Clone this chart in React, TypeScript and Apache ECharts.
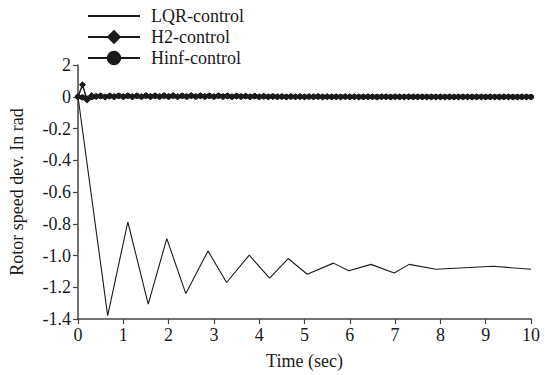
import React, { useEffect, useRef } from "react";
import * as echarts from "echarts";

// LQR response: corner points of the damped oscillation (time s, deviation rad)
const LQR_TIME = [0, 0.655, 1.1, 1.55, 1.96, 2.38, 2.87, 3.28, 3.78, 4.23, 4.64, 5.06, 5.64, 5.98, 6.47, 6.98, 7.31, 7.9, 9.17, 10.0];
const LQR_VALUES = [0, -1.379, -0.789, -1.306, -0.894, -1.24, -0.971, -1.17, -0.998, -1.143, -1.019, -1.118, -1.048, -1.096, -1.056, -1.11, -1.056, -1.087, -1.068, -1.087];

// H2 and Hinf responses, sampled every 0.1 s from 0 to 10 s
const SAMPLE_STEP = 0.1;
const H2_VALUES = [
  0, 0.075, -0.02, 0.008, 0.002, 0.006, -0.002, 0.005, 0.0, 0.006,
  0.001, 0.007, 0.0, 0.006, 0.002, 0.008, 0.001, 0.007, 0.001, 0.008,
  0.002, 0.008, 0.001, 0.007, 0.002, 0.008, 0.001, 0.007, 0.002, 0.007,
  0.001, 0.006, 0.001, 0.006, 0.0, 0.005, 0.001, 0.004, 0.0, 0.004,
  0.0, 0.003, 0.0, 0.002, 0.0, 0.002, -0.001, 0.002, 0.0, 0.001,
  -0.001, 0.001, 0.0, 0.001, -0.001, 0.001, 0.0, 0.0, -0.001, 0.001,
  0.0, 0.0, -0.001, 0.0, 0.0, 0.0, -0.001, 0.0, 0.0, -0.001,
  0.0, 0.0, -0.001, 0.0, 0.0, -0.001, 0.0, -0.001, 0.0, -0.001,
  0.0, -0.001, 0.0, -0.001, -0.001, 0.0, -0.001, -0.001, 0.0, -0.001,
  -0.001, 0.0, -0.001, -0.001, 0.0, -0.001, -0.001, -0.001, 0.0, -0.001,
  -0.001,
];
const HINF_VALUES = [
  0, -0.004, -0.012, -0.003, 0.002, 0.004, 0.0, 0.004, 0.001, 0.005,
  0.0, 0.005, 0.001, 0.005, 0.0, 0.006, 0.001, 0.005, 0.001, 0.006,
  0.001, 0.006, 0.0, 0.005, 0.001, 0.006, 0.001, 0.005, 0.001, 0.005,
  0.0, 0.005, 0.001, 0.004, 0.0, 0.004, 0.001, 0.003, 0.0, 0.003,
  0.0, 0.002, 0.0, 0.002, 0.0, 0.001, 0.0, 0.001, 0.0, 0.001,
  0.0, 0.0, 0.0, 0.001, 0.0, 0.0, -0.001, 0.0, 0.0, 0.0,
  -0.001, 0.0, 0.0, -0.001, 0.0, 0.0, -0.001, 0.0, 0.0, -0.001,
  0.0, -0.001, 0.0, 0.0, -0.001, 0.0, -0.001, 0.0, -0.001, 0.0,
  -0.001, 0.0, -0.001, -0.001, 0.0, -0.001, 0.0, -0.001, -0.001, 0.0,
  -0.001, -0.001, 0.0, -0.001, -0.001, 0.0, -0.001, -0.001, -0.001, 0.0,
  -0.001,
];

const SERIES_NAMES = ["LQR-control", "H2-control", "Hinf-control"];

// Axis ranges and tick labels
const X_MIN = 0;
const X_MAX = 10;
const X_STEP = 1;
const Y_MIN = -1.4;
const Y_MAX = 0.2;
const Y_STEP = 0.2;
const Y_TICK_LABELS = ["-1.4", "-1.2", "-1.0", "-0.8", "-0.6", "-0.4", "-0.2", "0", "2"];

const FONT = "Liberation Serif";
const INK = "#1a1a1a";
const AXIS_COLOR = "#444";

export default function App() {
  const ref = useRef<HTMLDivElement | null>(null);

  useEffect(() => {
    if (!ref.current) return;
    const chart = echarts.init(ref.current, undefined, { renderer: "svg" });

    const lqr = LQR_TIME.map((t, i) => [t, LQR_VALUES[i]]);
    const h2 = H2_VALUES.map((v, i) => [+(i * SAMPLE_STEP).toFixed(2), v]);
    const hinf = HINF_VALUES.map((v, i) => [+(i * SAMPLE_STEP).toFixed(2), v]);

    const labelStyle = { fontFamily: FONT, fontSize: 18, color: INK };

    chart.setOption({
      animation: false,
      backgroundColor: "#fff",
      textStyle: { fontFamily: FONT },
      grid: { left: 78, right: 14, top: 65, bottom: 53, containLabel: false },
      legend: {
        data: [
          // LQR is a plain line: hide the legend marker, keep the line
          { name: SERIES_NAMES[0], itemStyle: { color: "transparent", borderWidth: 0 } },
          { name: SERIES_NAMES[1] },
          { name: SERIES_NAMES[2] },
        ],
        orient: "vertical",
        left: 87,
        top: 7,
        padding: 0,
        itemWidth: 52,
        itemHeight: 18,
        itemGap: 3,
        textStyle: { ...labelStyle, padding: [0, 0, 0, 6] },
      },
      xAxis: {
        type: "value",
        min: X_MIN,
        max: X_MAX,
        interval: X_STEP,
        name: "Time (sec)",
        nameLocation: "middle",
        nameGap: 33,
        nameTextStyle: labelStyle,
        axisLine: { show: true, onZero: false, lineStyle: { color: AXIS_COLOR, width: 1.5 } },
        axisTick: { show: true, length: 5, lineStyle: { color: AXIS_COLOR, width: 1.2 } },
        axisLabel: { ...labelStyle, margin: 7 },
        splitLine: { show: false },
      },
      yAxis: {
        type: "value",
        min: Y_MIN,
        max: Y_MAX,
        interval: Y_STEP,
        name: "Rotor speed dev. In rad",
        nameLocation: "middle",
        nameGap: 52,
        nameRotate: 90,
        nameTextStyle: labelStyle,
        axisLine: { show: true, onZero: false, lineStyle: { color: AXIS_COLOR, width: 1.5 } },
        axisTick: { show: true, length: 5, lineStyle: { color: AXIS_COLOR, width: 1.2 } },
        axisLabel: {
          ...labelStyle,
          margin: 7,
          formatter: (v: number) => Y_TICK_LABELS[Math.round((v - Y_MIN) / Y_STEP)] ?? "",
        },
        splitLine: { show: false },
      },
      series: [
        {
          name: SERIES_NAMES[0],
          type: "line",
          data: lqr,
          symbol: "none",
          lineStyle: { color: INK, width: 1.1 },
          itemStyle: { color: INK },
        },
        {
          name: SERIES_NAMES[1],
          type: "line",
          data: h2,
          symbol: "diamond",
          symbolSize: 7,
          lineStyle: { color: INK, width: 1.5 },
          itemStyle: { color: INK },
        },
        {
          name: SERIES_NAMES[2],
          type: "line",
          data: hinf,
          symbol: "circle",
          symbolSize: 6,
          lineStyle: { color: INK, width: 1.5 },
          itemStyle: { color: INK },
        },
      ],
    });

    return () => chart.dispose();
  }, []);

  return <div ref={ref} style={{ position: "absolute", left: 0, top: 0, width: 545, height: 375 }} />;
}
